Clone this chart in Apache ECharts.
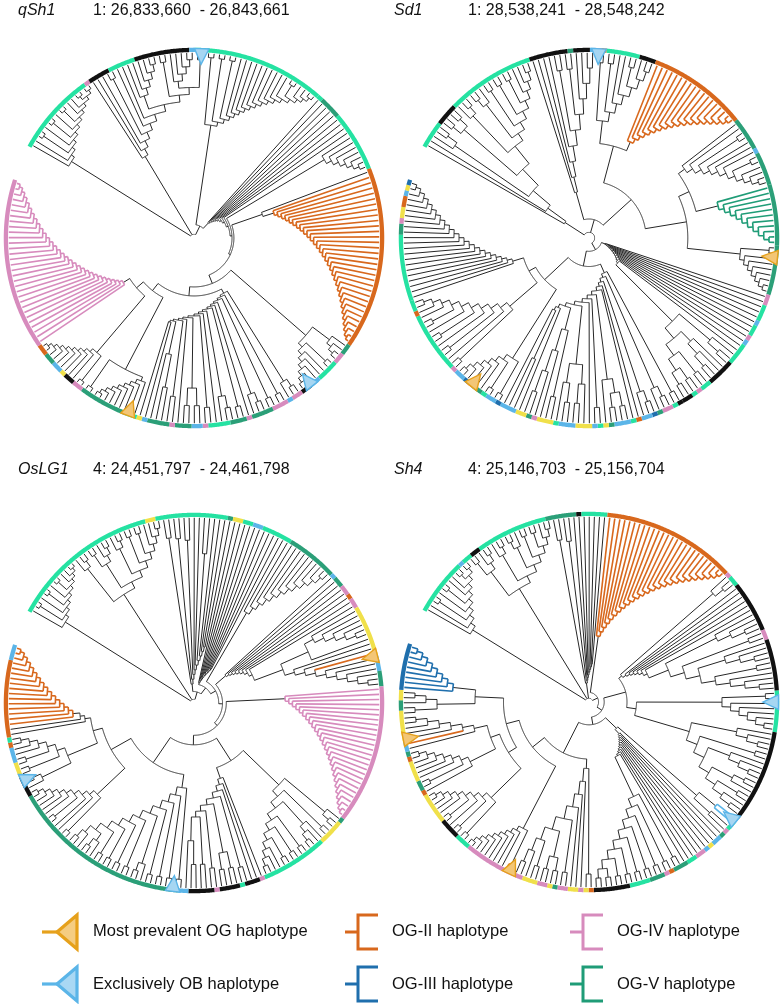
<!DOCTYPE html>
<html><head><meta charset="utf-8">
<script src="https://cdn.jsdelivr.net/npm/echarts@6.0.0/dist/echarts.min.js"></script>
<style>html,body{margin:0;padding:0;background:#fff}#c{width:784px;height:1004px}</style>
</head><body><div id="c"></div>
<script>
// ---------------- DATA ----------------
// Tree topologies (x = leaf, (a,b) = node, [a;b;c] = ladder (a,(b,c)), {..} = ladder with spine radii,
// <n = comb of n leaves, :r = node radius (0..1), @c = clade colour)
const T1_A = "[x;x;(x,x);x;(x,x);x;(x,x);x;x;((x,x),(x,x))]:0.76";
const T1_B = "[x;x;x;(x,x);x;x;<6;(x,x);<5;(x,x)]:0.5";
const T1_C = "[(x,x);(x,x);(x,x);x;x;x;x;x;x;x;x;x;x;(x,x);x;x;(x,x)]:0.6";
const T1_D = "(x,<32@o:0.44):0.38";
const T1_E = "((x,(x,(x,x))),[(x,x);x;x;x;x;(x,x)]):0.78";
const T1_F = "{((x,x),x);(x,x);(x,x);((x,x),x);x;(x,x);((x,x),x);x;(x,x);((x,x),(x,x));x;(x,x);((x,x),x);x;x}:0.33:0.46";
const T1_G = "([x;x;x;x;x;x;x;x;x],(x,x)):0.78";
const T1_H = "[(x,x);x;x;x;x;x;x;x;x;x]:0.79";
const T1_I = "<31@p:0.44";
const TREE_QSH1 = `(${T1_A},${T1_B},(${T1_C},{x;x;x;x;x;x;x;x;x;<7:0.8;{${T1_D};${T1_E};${T1_F};${T1_G};${T1_H};${T1_I}}:0.21:0.4}:0.11:0.2):0.07):0.02`;

const T2_1 = "{x;x;(x,(x,x));((x,x),(x,x));(x,(x,x));(((x,x),x),[(x,x);(x,x);(x,x);x;x;x;x])}:0.15:0.62";
const T2_2 = "[x;x;x;x;(x,x);(x,x);x;x;x;x]:0.25";
const T2_3 = "[(x,x);(x,x);x;x;(x,x);x;x;x]:0.62";
const T2_4 = "<18@o:0.55";
const T2_5 = "[x;x;(x,x);x;x;x;(x,x);x;x;x;x]:0.62";
const T2_6 = "<11@v:0.7";
const T2_7 = "[(x,x);x;x;x;x;x;x;x]:0.8";
const T2_8 = "{x;x;x;x;x;x;x;x;x;x;x;x;((x,(x,x)),[(x,(x,(x,x)));(x,x);(x,x);(x,x)]):0.62}:0.09:0.2";
const T2_9 = "{(x,x);((x,x),x);((x,x),x);x;x;(((x,x),(x,x)),x);(x,x);x;((x,(x,x)),((x,x),x));((x,x),[x;x;x;x]);x;(x,x);x}:0.2:0.42";
const T2_10 = "((x,x),[(x,x);x;x;x;x;x;x]):0.75";
const T2_11 = "[(x,x);x;(x,x);x;(x,x);x;(x,x);x;x;x;x]:0.55";
const T2_12 = "<22:0.42";
const TREE_SD1 = `(${T2_1},(${T2_2},((${T2_3},${T2_4}):0.5,((${T2_5},${T2_6}):0.58,${T2_7}):0.52):0.3):0.1,(${T2_8},(${T2_9},(${T2_10},(${T2_11},${T2_12}):0.36):0.32):0.15):0.07):0.03`;

const T3_1 = "[x;(x,x);x;(x,x);x;(x,x);x;x;x;x]:0.8";
const T3_2 = "((x,(x,x)),[((x,x),(x,(x,x)));(x,(x,x));(x,x);(x,x);x;x;x;x]):0.68";
const T3_3 = "{(x,x);(x,x);(x,x);x;x;(x,x);x;x;x;x}:0.1:0.3";
const T3_4 = "{x;x;x;x;x;x;x;x;x;x}:0.11:0.2";
const T3_5 = "<12:0.55";
const T3_6 = "{x;x;x;x;x;x;x;x;(([x;x;x;x;x;x],x),[x;x;x@o;x;x;x;x;x;x]):0.5}:0.22:0.34";
const T3_7 = "<27@p:0.48";
const T3_8 = "[(x,(x,x));(x,x);(x,(x,(x,x)));(x,x);(x,x);(x,x);x;x;x;x]:0.62";
const T3_9 = "{x;x;x;(x,x);((x,x),(x,x));(x,x);(x,x);((x,x),x)}:0.42:0.6";
const T3_10 = "[(x,x);(x,x);(x,x);(x,x);(x,(x,x));(x,x);(x,x);(x,x);(x,x);(x,(x,x));(x,(x,x))]:0.45";
const T3_11 = "[(x,x);x;x;(x,x);x;x;x;x;x;x]:0.7";
const T3_12 = "[(x,(x,x));(x,x);(x,x);x;x;x;x]:0.72";
const T3_13 = "(x,(x,<16@o:0.64)):0.58";
const TREE_OSLG1 = `(${T3_1},${T3_2},(${T3_3},(${T3_4},(${T3_5},(${T3_6},(${T3_7},((${T3_8},${T3_9}):0.36,(${T3_10},(${T3_11},(${T3_12},${T3_13}):0.55):0.5):0.38):0.22):0.17):0.15):0.13):0.1):0.06):0.02`;

const T4_1 = "[x;x;(x,x);x;(x,x);x;x;(x,x);x;x]:0.72";
const T4_2 = "(((x,x),(x,(x,x))),[(x,(x,x));((x,x),x);(x,x);(x,x);x;(x,x)]):0.7";
const T4_3 = "{(x,x);(x,x);x;x;x;x;x;x;x}:0.1:0.2";
const T4_4 = "<26@o:0.35";
const T4_5 = "((x,(x,x)),{x;x;x;x;x;x;[(x,(x,(x,x)));(x,x);(x,(x,(x,x)));(x,x);x;x;x;x]:0.45}:0.24:0.34):0.22";
const T4_6 = "[(x,x);x;x;x;x;x;x]:0.7";
const T4_7 = "[(x,(x,(x,x)));(x,x);(x,(x,(x,x)));((x,x),x);(x,x);(x,(x,x))]:0.55";
const T4_8 = "((x,x)@b,(x,x)):0.75";
const T4_9 = "{x;x;x;x;x;x;x;x;x;x;[(x,x);(x,x);(x,x);(x,x);(x,x);(x,x);(x,x);(x,x);(x,x)]:0.55}:0.23:0.32";
const T4_10 = "[(x,x);x;x;x;(x,x);((x,x),(x,x));(x,x);x;x;x]:0.35";
const T4_11 = "((x,x)@o,[x;x;x;x;x;x;x;x;x]):0.75";
const T4_12 = "([(x,x);(x,x);x;(x,x);x;x;x;x;x]:0.72,([x;(x,x);x;x;x;x;x;x]:0.7,[x;x@o;x;x;x;x;x]:0.62):0.55):0.5";
const T4_13 = "(((x,x),(x,(x,x))):0.8,<9@n:0.72):0.6";
const TREE_SH4 = `(${T4_1},${T4_2},${T4_3},(${T4_4},((${T4_5},(${T4_6},${T4_7}):0.25):0.2,((${T4_8},${T4_9}):0.2,(${T4_10},(${T4_11},(${T4_12},${T4_13}):0.45):0.38):0.3):0.12):0.08):0.05):0.02`;

// Outer ring colour runs (colour code + number of leaves), clockwise from the gap
const RING_QSH1 = "g15 p1 k4 g5 k10 b1 g2 g22 g1 d4 g11 o33 d2 p2 g4 b2 k2 p2 b1 p3 d4 p1 d3 g4 p1 b2 d3 p1 d4 b1 y1 g2 d9 p2 k2 y1 b2 d2 o2 p31".split(" ");
const RING_SD1 = "g5 k4 g16 k7 d1 k3 b1 p1 o1 g6 k3 o18 d6 b1 d6 d11 d9 p2 g3 b1 g2 p1 b1 g4 k5 g2 p1 g1 k2 k1 g1 p2 d1 n1 b2 o1 g1 b3 d1 y1 g1 b1 y3 b3 g1 y3 p1 d1 y2 b3 n1 b2 g1 d2 o1 n1 b2 p1 g11 o1 g2 g12 d2 p1 y2 o2 b1 y1 n1".split(" ");
const RING_OSLG1 = "g29 y2 g14 d1 y2 g2 b2 g6 d10 b1 d2 p2 o1 p2 y10 b3 d3 p27 d1 y5 g13 p1 k3 g1 k4 p1 k5 b2 d35 k4 y3 b3 o1 g1 o15 b3".split(" ");
const RING_SH4 = "g11 b1 g2 k2 g14 d6 k1 g5 o26 p1 g2 k10 p2 k10 g1 b1 g6 k18 b1 g2 p1 d1 b2 y1 b1 p2 g2 d3 o1 p1 d3 g4 k7 o1 y1 p1 y2 p2 d1 y1 p2 y3 p12 g3 k4 y6 o1 d2 y4 o1 d1 b2 y6 d2 y2 n9".split(" ");

// Haplotype markers: [position along leaf axis, type]
const MARKS_QSH1 = [[37.2, "ob"], [118.9, "ob"], [153.6, "og"]];
const MARKS_SD1 = [[37.6, "ob"], [92.2, "og"], [164.2, "og"]];
const MARKS_OSLG1 = [[86.0, "og"], [156.0, "ob"], [193.3, "ob"]];
const MARKS_SH4 = [[95.2, "ob"], [119.9, "ob"], [167.7, "og"], [201.5, "og"]];

const GENE_NAMES = ["qSh1", "Sd1", "OsLG1", "Sh4"];
const GENE_RANGES = ["1: 26,833,660  - 26,843,661", "1: 28,538,241  - 28,548,242", "4: 24,451,797  - 24,461,798", "4: 25,146,703  - 25,156,704"];
const LEGEND_LABELS = ["Most prevalent OG haplotype", "OG-II haplotype", "OG-IV haplotype", "Exclusively OB haplotype", "OG-III haplotype", "OG-V haplotype"];

// ---------------- STYLE / LAYOUT ----------------
const COLORS = {k:"#111111", g:"#25e2a2", d:"#2b9f78", p:"#d78bbd", o:"#d8681d", b:"#5bb5e8", y:"#f0e04a", n:"#1f6fad", v:"#1f9c77"};
const CODES = ["k","g","d","p","o","b","y","n","v"];
const TREE_LINE = "#262626";
const LEAF_R = 0.975, RING_R = 0.99, SPAN = 349, START = 151, PR = 190;
const PANELS = [
  {tree: TREE_QSH1, ring: RING_QSH1, marks: MARKS_QSH1, center: [194, 238], title: [18, 93, 11]},
  {tree: TREE_SD1, ring: RING_SD1, marks: MARKS_SD1, center: [589, 238], title: [394, 468, 11]},
  {tree: TREE_OSLG1, ring: RING_OSLG1, marks: MARKS_OSLG1, center: [194, 703], title: [18, 93, 470]},
  {tree: TREE_SH4, ring: RING_SH4, marks: MARKS_SH4, center: [589, 702], title: [394, 468, 470]}
];

// ---------------- TREE PARSING / LAYOUT ----------------
function parseTree(src) {
  const s = src.replace(/\s+/g, "");
  let i = 0;
  const ctx = () => s.slice(Math.max(0, i - 25), i + 25);
  function num() {
    const m = /^[0-9]*\.?[0-9]+/.exec(s.slice(i));
    if (!m) throw new Error("number expected at " + i + ": " + ctx());
    i += m[0].length; return parseFloat(m[0]);
  }
  const leaf = () => ({leaf: true});
  function comb(n, dir) {
    if (n === 1) return leaf();
    const rest = comb(n - 1, dir);
    return {children: dir === "<" ? [leaf(), rest] : [rest, leaf()]};
  }
  function list(close, sep) {
    const arr = [node()];
    while (s[i] === sep) { i++; arr.push(node()); }
    if (s[i] !== close) throw new Error("expected " + close + " at " + i + ": " + ctx());
    i++; return arr;
  }
  function ladder(arr) {
    let n = {children: [arr[arr.length - 2], arr[arr.length - 1]]};
    const spine = [n];
    for (let k = arr.length - 3; k >= 0; k--) { n = {children: [arr[k], n]}; spine.unshift(n); }
    return {root: n, spine};
  }
  function node() {
    let nd; const c = s[i];
    if (c === "x") { i++; nd = leaf(); }
    else if (c === "(") { i++; nd = {children: list(")", ",")}; }
    else if (c === "[") { i++; nd = ladder(list("]", ";")).root; }
    else if (c === "{") { i++; const L = ladder(list("}", ";")); nd = L.root; nd.spine = L.spine; }
    else if (c === "<" || c === ">") { i++; nd = comb(num(), c); }
    else throw new Error("unexpected '" + c + "' at " + i + ": " + ctx());
    while (s[i] === ":" || s[i] === "@") {
      if (s[i] === ":") { i++; const v = num(); if (nd.spine && nd.r !== undefined) nd.r2 = v; else nd.r = v; }
      else { i++; nd.own = s[i]; i++; }
    }
    if (nd.spine && nd.r !== undefined && nd.r2 !== undefined) {
      const k = nd.spine.length, r0 = nd.r, r1 = nd.r2;
      nd.spine.forEach((sn, j) => { sn.r = r0 + (r1 - r0) * (k > 1 ? j / (k - 1) : 0); });
    }
    return nd;
  }
  const root = node();
  if (i !== s.length) throw new Error("trailing text at " + i + ": " + ctx());
  return root;
}

function layoutTree(root) {
  let idx = 0;
  (function walk(n, pc) {
    n.col = n.own || pc;
    if (n.leaf) { n.ang = idx + 0.5; idx++; n.h = 0; return; }
    n.children.forEach(c => walk(c, n.col));
    n.h = 1 + Math.max(...n.children.map(c => c.h));
    n.ang = (n.children[0].ang + n.children[n.children.length - 1].ang) / 2;
  })(root, "k");
  if (root.r === undefined) root.r = 0.02;
  (function place(n, anc, pr) {
    if (n.leaf) n.rad = LEAF_R;
    else if (n.r !== undefined) n.rad = n.r;
    else n.rad = LEAF_R - (LEAF_R - anc.rad) * n.h / anc.h;
    if (n.rad < pr + 0.004) n.rad = pr + 0.004;
    if (!n.leaf) { const a = n.r !== undefined ? n : anc; n.children.forEach(c => place(c, a, n.rad)); }
  })(root, root, -1);
  return idx;
}

function collectSegs(n, out) {
  if (n.leaf) return;
  const f = n.children[0], l = n.children[n.children.length - 1];
  out.push([n.rad, f.ang, n.rad, l.ang, 1, CODES.indexOf(n.col)]);
  n.children.forEach(c => {
    const col = (c.leaf && c.own) ? c.own : n.col;
    out.push([n.rad, c.ang, c.rad, c.ang, 0, CODES.indexOf(col)]);
    collectSegs(c, out);
  });
}

function arcPoints(api, r, a1, a2) {
  const pts = []; const steps = Math.max(2, Math.ceil(Math.abs(a2 - a1) / 0.2));
  for (let k = 0; k <= steps; k++) pts.push(api.coord([r, a1 + (a2 - a1) * k / steps]));
  return pts;
}

// ---------------- BUILD OPTION ----------------
const polar = [], angleAxis = [], radiusAxis = [], series = [];
PANELS.forEach((P, pi) => {
  const root = parseTree(P.tree);
  const n = layoutTree(root);
  const runs = P.ring.map(t => [t[0], parseInt(t.slice(1), 10)]);
  const total = runs.reduce((s, r) => s + r[1], 0);
  if (total !== n) throw new Error("panel " + GENE_NAMES[pi] + ": " + n + " leaves but ring has " + total);
  polar.push({center: P.center, radius: PR});
  angleAxis.push({polarIndex: pi, type: "value", min: 0, max: n * 360 / SPAN, startAngle: START, clockwise: true, show: false,
    axisLine: {show: false}, axisTick: {show: false}, axisLabel: {show: false}, splitLine: {show: false}});
  radiusAxis.push({polarIndex: pi, type: "value", min: 0, max: 1, show: false,
    axisLine: {show: false}, axisTick: {show: false}, axisLabel: {show: false}, splitLine: {show: false}});

  const segs = []; collectSegs(root, segs);
  segs.sort((a, b) => (a[5] === 0 ? 0 : 1) - (b[5] === 0 ? 0 : 1));
  series.push({
    type: "custom", coordinateSystem: "polar", polarIndex: pi, silent: true, animation: false,
    data: segs,
    renderItem: (params, api) => {
      const r1 = api.value(0), a1 = api.value(1), r2 = api.value(2), a2 = api.value(3), kind = api.value(4), ci = api.value(5);
      const stroke = ci === 0 ? TREE_LINE : COLORS[CODES[ci]];
      const lw = ci === 0 ? 1 : 1.6;
      if (kind === 0) {
        const p = api.coord([r1, a1]), q = api.coord([r2, a1]);
        return {type: "line", shape: {x1: p[0], y1: p[1], x2: q[0], y2: q[1]}, style: {stroke, lineWidth: lw}};
      }
      return {type: "polyline", shape: {points: arcPoints(api, r1, a1, a2)}, style: {stroke, lineWidth: lw, fill: null}};
    }
  });

  const ringData = []; let pos = 0;
  runs.forEach(([c, cnt]) => { ringData.push([RING_R, pos, pos + cnt, CODES.indexOf(c)]); pos += cnt; });
  series.push({
    type: "custom", coordinateSystem: "polar", polarIndex: pi, silent: true, animation: false,
    data: ringData,
    renderItem: (params, api) => ({type: "polyline",
      shape: {points: arcPoints(api, api.value(0), api.value(1), api.value(2))},
      style: {stroke: COLORS[CODES[api.value(3)]], lineWidth: 4.3, fill: null, lineCap: "butt"}})
  });

  const hw = 2.2 * n / SPAN;
  series.push({
    type: "custom", coordinateSystem: "polar", polarIndex: pi, silent: true, animation: false,
    data: P.marks.map(m => [0.95, m[0], m[1] === "og" ? 0 : 1]),
    renderItem: (params, api) => {
      const a = api.value(1), t = api.value(2);
      const apex = api.coord([0.915, a]), b1 = api.coord([0.998, a - hw]), b2 = api.coord([0.998, a + hw]);
      return {type: "polygon", shape: {points: [apex, b1, b2]},
        style: t === 0 ? {fill: "#f3c676", stroke: "#e6a11c", lineWidth: 1.4} : {fill: "#a6d6f2", stroke: "#5bb5e8", lineWidth: 1.4}};
    }
  });
});

// ---------------- TEXT & LEGEND ----------------
const FONT = '"Liberation Sans", Arial, sans-serif';
const graphic = [];
PANELS.forEach((P, pi) => {
  const [xn, xr, y] = P.title;
  graphic.push({type: "text", x: xn, y: y, style: {text: GENE_NAMES[pi], font: "italic 16px " + FONT, fill: "#111", verticalAlign: "middle"}});
  graphic.push({type: "text", x: xr, y: y, style: {text: GENE_RANGES[pi], font: "16px " + FONT, fill: "#111", verticalAlign: "middle"}});
});
function triIcon(y, stroke, fill) {
  graphic.push({type: "polyline", shape: {points: [[42, y], [57, y]]}, style: {stroke, lineWidth: 3.2, fill: null}});
  graphic.push({type: "polygon", shape: {points: [[57, y], [77, y - 17], [77, y + 17]]}, style: {stroke, fill, lineWidth: 3.2, lineJoin: "miter"}});
}
function bracketIcon(x, y, stroke) {
  graphic.push({type: "polyline", shape: {points: [[x, y], [x + 13, y]]}, style: {stroke, lineWidth: 3, fill: null}});
  graphic.push({type: "polyline", shape: {points: [[x + 33, y - 17], [x + 13, y - 17], [x + 13, y + 17], [x + 33, y + 17]]}, style: {stroke, lineWidth: 3, fill: null}});
}
const LY1 = 932, LY2 = 984;
triIcon(LY1, "#e6a11c", "#f5cd82");
triIcon(LY2, "#5bb5e8", "#a9d8f4");
bracketIcon(345, LY1, COLORS.o);
bracketIcon(570, LY1, COLORS.p);
bracketIcon(345, LY2, COLORS.n);
bracketIcon(570, LY2, COLORS.v);
[[93, LY1 - 1, 0], [392, LY1 - 1, 1], [617, LY1 - 1, 2], [93, LY2, 3], [392, LY2, 4], [617, LY2, 5]].forEach(([x, y, k]) => {
  graphic.push({type: "text", x, y, style: {text: LEGEND_LABELS[k], font: "16.5px " + FONT, fill: "#111", verticalAlign: "middle"}});
});

const chart = echarts.init(document.getElementById("c"), null, {renderer: "canvas"});
chart.setOption({animation: false, polar, angleAxis, radiusAxis, series, graphic});
</script></body></html>
